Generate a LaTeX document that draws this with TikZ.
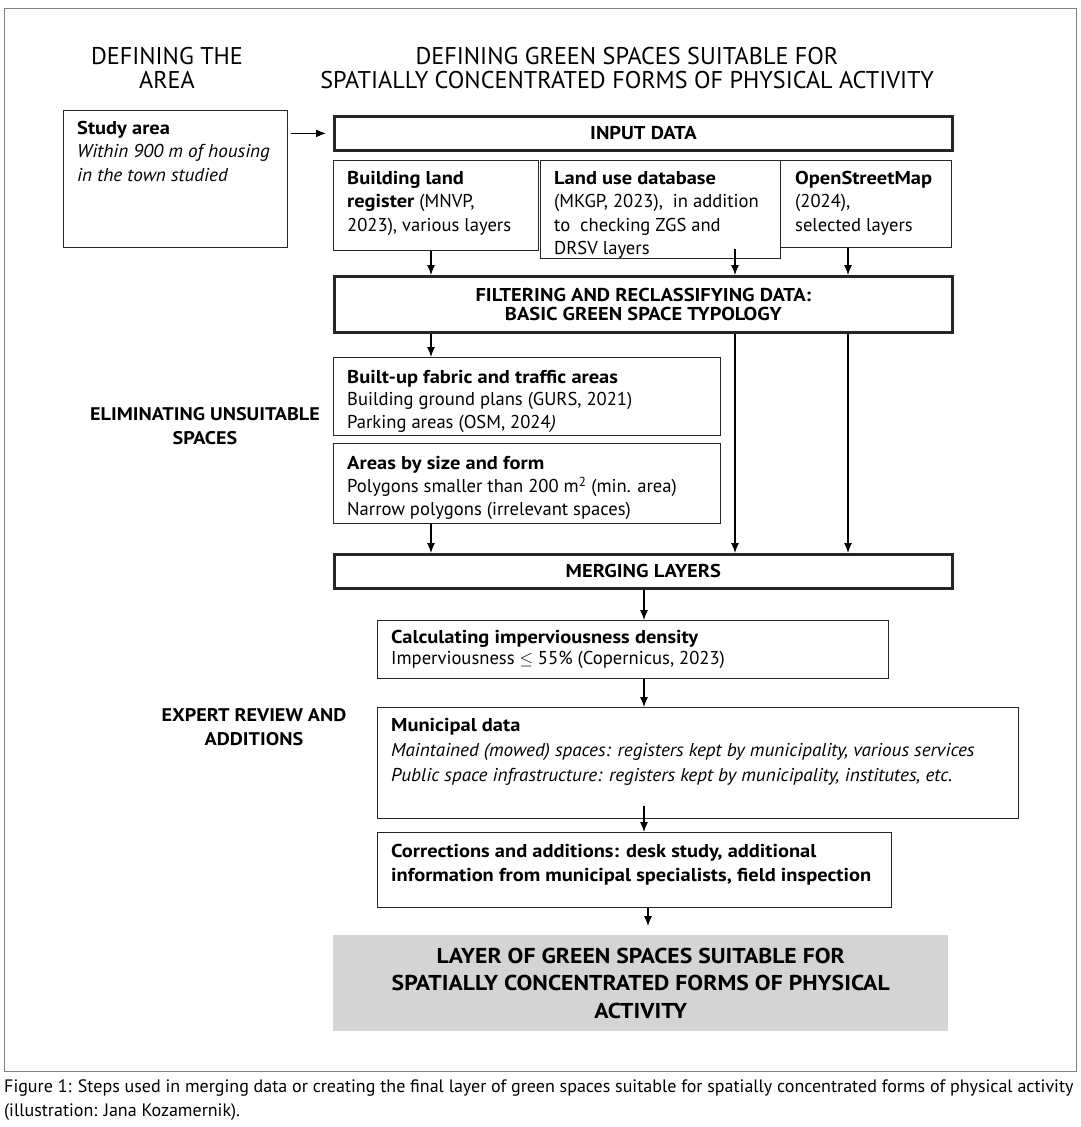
\documentclass[tikz,border=0pt]{standalone}
\usepackage{fontspec}
\setmainfont{PT Sans}[BoldFeatures={FakeStretch=1.1},ItalicFeatures={FakeStretch=1.03}]
\usepackage{tikz}
\usetikzlibrary{positioning}
\usetikzlibrary{arrows,arrows.meta}
\tikzstyle{box}=[rectangle,draw=black!85,line width=1.2pt,inner sep=0pt,anchor=north west]
\tikzstyle{thickbox}=[box,line width=2.8pt,font=\bfseries\fontsize{18.6}{19}\selectfont,align=center]
\tikzstyle{finalbox}=[rectangle,fill=black!17,inner sep=0pt,anchor=north west,align=center,font=\bfseries\fontsize{21.5}{27.5}\selectfont]
\tikzstyle{txt}=[anchor=north west,inner sep=0pt,align=left,font=\fontsize{18.6}{23.5}\selectfont]
\tikzstyle{head}=[align=center,font=\fontsize{24.2}{24}\selectfont]
\tikzstyle{side}=[align=center,font=\bfseries\fontsize{18.3}{24}\selectfont]
\tikzstyle{edge}=[draw,line width=1.2pt,-{Latex[length=10pt,width=8pt]}]
\tikzstyle{frame}=[draw=black!50,line width=0.8pt]

\begin{document}
\begin{tikzpicture}[x=1pt,y=-1pt]

  \useasboundingbox (0,0) rectangle (1081,1127);
  \draw[frame] (4,8) rectangle (1076,1071);

  % headings
  \node[head] (hArea) at (167,68) {DEFINING THE\\AREA};
  \node[head] (hGreen) at (627,68) {DEFINING GREEN SPACES SUITABLE FOR\\SPATIALLY CONCENTRATED FORMS OF PHYSICAL ACTIVITY};
  \node[side] (hElim) at (205,426) {ELIMINATING UNSUITABLE\\SPACES};
  \node[side] (hExpert) at (254,727) {EXPERT REVIEW AND\\ADDITIONS};

  % plain boxes
  \foreach \x/\y/\w/\h/\name in {63/110/224/137/study, 333/160/205/90/bld, 540/160/240/98/luse, 780/160/171/87/osm,
                                  333/357/387/78/bu, 333/443/387/80/size, 377/620/511/58/calc, 377/707/641/111/muni, 377/832/514/75/corr}
          \node[box,minimum width=\w pt,minimum height=\h pt] (\name) at (\x,\y) {};

  % thick boxes
  \foreach \y/\h/\name/\label in {115/34/input/{INPUT DATA}, 275/56/filt/{FILTERING AND RECLASSIFYING DATA:\\BASIC GREEN SPACE TYPOLOGY}, 553/34/merge/{MERGING LAYERS}}
          \node[thickbox,minimum width=618pt,minimum height=\h pt] (\name) at (333,\y) {\label};

  \node[finalbox,minimum width=615pt,minimum height=96pt] (final) at (333,935)
       {LAYER OF GREEN SPACES SUITABLE FOR\\SPATIALLY CONCENTRATED FORMS OF PHYSICAL\\ACTIVITY};

  % box texts
  \node[txt] (studyT) at ([shift={(14,11)}]study.north west) {\textbf{Study area}\\\textit{Within 900 m of housing}\\\textit{in the town studied}};
  \node[txt] (bldT) at ([shift={(14,11)}]bld.north west) {\textbf{Building land}\\\textbf{register} (MNVP,\\2023), various layers};
  \node[txt] (luseT) at ([shift={(14,11)}]luse.north west) {\textbf{Land use database}\\(MKGP, 2023),\ \ in addition\\to\ \ checking ZGS and\\DRSV layers};
  \node[txt] (osmT) at ([shift={(15,11)}]osm.north west) {\textbf{OpenStreetMap}\\(2024),\\selected layers};
  \node[txt,font=\fontsize{18.6}{22.5}\selectfont] (buT) at ([shift={(14,13)}]bu.north west) {\textbf{Built-up fabric and traffic areas}\\Building ground plans (GURS, 2021)\\Parking areas (OSM, 2024\textit{)}};
  \node[txt,font=\fontsize{18.6}{23}\selectfont] (sizeT) at ([shift={(14,13)}]size.north west) {\textbf{Areas by size and form}\\Polygons smaller than 200 m\textsuperscript{2} (min. area)\\Narrow polygons (irrelevant spaces)};
  \node[txt,font=\fontsize{18.6}{21}\selectfont] (calcT) at ([shift={(14,10)}]calc.north west) {\textbf{Calculating imperviousness density}\\Imperviousness $\leq$ 55\% (Copernicus, 2023)};
  \node[txt,font=\fontsize{18.6}{25}\selectfont] (muniT) at ([shift={(14,11)}]muni.north west) {\textbf{Municipal data}\\\textit{Maintained (mowed) spaces: registers kept by municipality, various services}\\\textit{Public space infrastructure: registers kept by municipality, institutes, etc.}};
  \node[txt,font=\bfseries\fontsize{18.6}{24}\selectfont] (corrT) at ([shift={(14,12)}]corr.north west) {Corrections and additions: desk study, additional\\information from municipal specialists, field inspection};

  % caption
  \node[txt,font=\fontsize{18}{24}\selectfont] (caption) at (4,1079) {Figure 1: Steps used in merging data or creating the final layer of green spaces suitable for spatially concentrated forms of physical activity\\(illustration: Jana Kozamernik).};

  % arrows
  \foreach \x/\name in {431/c1, 735/c2, 848/c3, 644/c4, 648/c5}
          \coordinate (\name) at (\x,0);

  \path[edge] ([xshift=3pt]study.east |- input.west) -- ([xshift=-7pt]input.west);
  \foreach \source/ \dest /\col in {bld.south/filt.north/c1, osm.south/filt.north/c3, filt.south/bu.north/c1, size.south/merge.north/c1,
                                     filt.south/merge.north/c2, filt.south/merge.north/c3, merge.south/calc.north/c4, calc.south/muni.north/c4}
         \path[edge] (\source -| \col) -- (\dest -| \col);
  \path[edge] ([yshift=10pt]luse.south -| c2) -- (filt.north -| c2);
  \path[edge] ([yshift=13pt]muni.south -| c4) -- (corr.north -| c4);
  \path[edge] (corr.south -| c5) -- ([yshift=9pt]final.north -| c5);

\end{tikzpicture}
\end{document}
